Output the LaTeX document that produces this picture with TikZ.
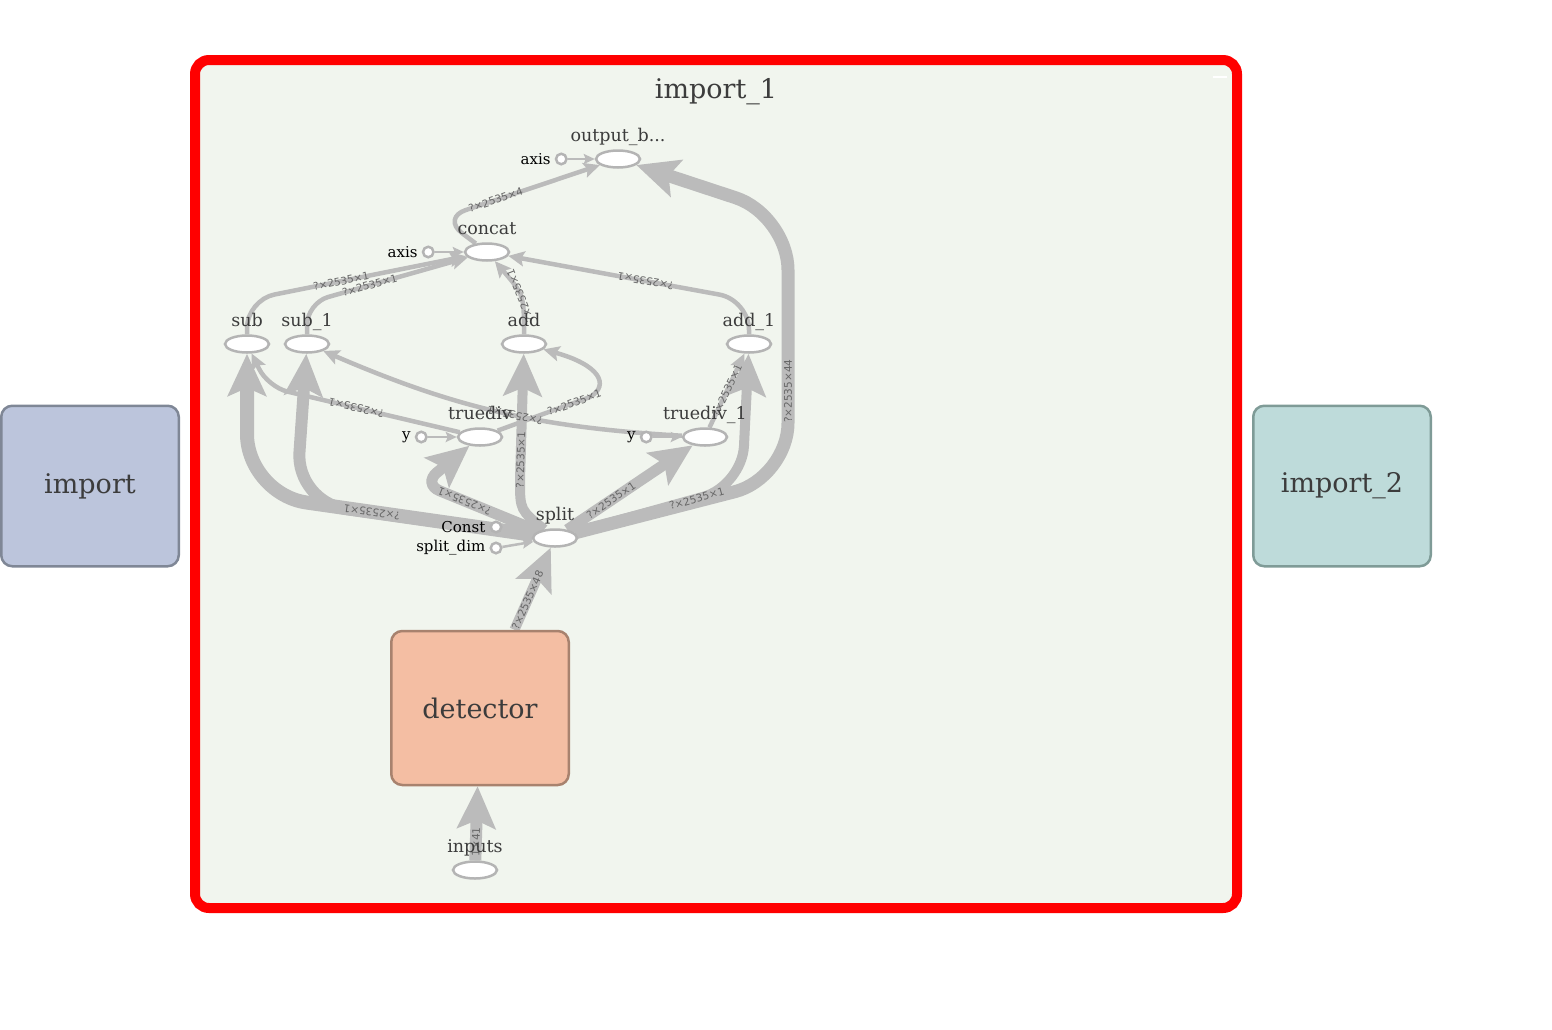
\documentclass[tikz,border=0pt]{standalone}
\usepackage{fontspec}
\setmainfont{DejaVu Serif}
\newfontfamily\dimfont{DejaVu Sans}
\usetikzlibrary{shapes.geometric, arrows.meta, positioning, calc}
\definecolor{tb_red}{HTML}{FF0000}
\definecolor{tb_bg}{HTML}{F1F5EE}
\definecolor{tb_edge}{HTML}{BBBBBB}
\definecolor{tb_op}{HTML}{B4B4B4}
\definecolor{tb_text}{HTML}{3C3C3C}
\definecolor{tb_dim}{HTML}{666666}
\definecolor{tb_import}{HTML}{BCC5DC}
\definecolor{tb_importline}{HTML}{7F8796}
\definecolor{tb_importtwo}{HTML}{BEDBDA}
\definecolor{tb_importtwoline}{HTML}{7F9B97}
\definecolor{tb_detector}{HTML}{F4BEA3}
\definecolor{tb_detectorline}{HTML}{A8826E}
\tikzset{
  opnode/.style={ellipse,draw=tb_op,line width=2.5pt,fill=white,minimum width=44pt,minimum height=17pt,inner sep=0pt},
  opname/.style={font=\fontsize{17.5}{17.5}\selectfont,text=tb_text,inner sep=0pt,text height=12pt,text depth=4pt},
  constnode/.style={circle,draw=tb_op,line width=2.5pt,fill=white,minimum size=10.5pt,inner sep=0pt},
  constname/.style={font=\fontsize{15}{15}\selectfont,text=black,inner sep=0pt},
  groupbox/.style={rectangle,rounded corners=11pt,line width=2.5pt,minimum width=177.5pt,inner sep=0pt,font=\fontsize{27}{27}\selectfont,text=tb_text},
  importframe/.style={rectangle,rounded corners=14pt,draw=tb_red,fill=tb_bg,line width=10pt,minimum width=1042pt,minimum height=848pt,inner sep=0pt},
  tensor/.style={draw=tb_edge,line width=#1,-{Stealth[length=16pt,width=15pt,inset=3pt]}},
  bigtensor/.style={draw=tb_edge,line width=#1,-{Stealth[length=42pt,width=38pt,inset=8pt]}},
  consttensor/.style={draw=tb_edge,line width=2.5pt,-{Stealth[length=11pt,width=10pt,inset=2pt]}},
  dims/.style={font=\dimfont\fontsize{10.5}{10.5}\selectfont,text=tb_dim,sloped,allow upside down,inner sep=1pt},
}
\pgfdeclarelayer{frame}
\pgfdeclarelayer{edges}
\pgfsetlayers{frame,edges,main}

\begin{document}
\begin{tikzpicture}[x=1pt,y=-1pt,label distance=4pt]
	\useasboundingbox (0,0) rectangle (1552,1029);
	\begin{pgfonlayer}{frame}
	    \node[importframe] (import1) at (716,484) {};
	\end{pgfonlayer}
	\node[font=\fontsize{27}{27}\selectfont,text=tb_text] (title) at (716,92) {import\_1};
	\draw[white,line width=2pt] (1213,77) -- (1227,77);
	% side groups
	\node[groupbox,draw=tb_importline,fill=tb_import,minimum height=160.5pt] (import) at (90,486) {import};
	\node[groupbox,draw=tb_importtwoline,fill=tb_importtwo,minimum height=160.5pt] (import2) at (1342,486) {import\_2};
	\node[groupbox,draw=tb_detectorline,fill=tb_detector,minimum height=154pt] (detector) at (480,708) {detector};
	% ops
	\node[opnode,label={[opname]above:output\_b...}] (outb) at (618,159) {};
	\node[opnode,label={[opname]above:concat}] (concat) at (487,252) {};
	\node[opnode,label={[opname]above:sub}] (sub) at (247,344) {};
	\node[opnode,label={[opname]above:sub\_1}] (sub1) at (307,344) {};
	\node[opnode,label={[opname]above:add}] (add) at (524,344) {};
	\node[opnode,label={[opname]above:add\_1}] (add1) at (749,344) {};
	\node[opnode,label={[opname]above:truediv}] (truediv) at (480,437) {};
	\node[opnode,label={[opname]above:truediv\_1}] (truediv1) at (705,437) {};
	\node[opnode,label={[opname]above:split}] (split) at (555,538) {};
	\node[opnode,label={[opname]above:inputs}] (inputs) at (475,870) {};
	% constants
	\node[constnode,left=27pt of outb,label={[constname]left:axis}] (axisout) {};
	\node[constnode,left=29pt of concat,label={[constname]left:axis}] (axisconcat) {};
	\node[constnode,left=29pt of truediv,label={[constname]left:y}] (ydiv) {};
	\node[constnode,left=29pt of truediv1,label={[constname]left:y}] (ydivone) {};
	\node[constnode,label={[constname]left:Const}] (const) at (496,527) {};
	\node[constnode,label={[constname]left:split\_dim}] (splitdim) at (496,548) {};
	\begin{pgfonlayer}{edges}
	    \draw[bigtensor=12pt] (inputs) -- node[dims,pos=0.25]{1×41} (detector);
	    \draw[bigtensor=10pt] (detector) -- node[dims,pos=0.36]{?×2535×48} (split);
	    \draw[bigtensor=13pt,rounded corners=55pt] (split) -- (788,478) -- node[dims,pos=0.33]{?×2535×44} (788,215) -- (outb);
	    \draw[bigtensor=14pt,rounded corners=60pt] (split) -- node[dims,pos=0.62]{?×2535×1} (247,494) -- (sub);
	    \draw[bigtensor=12pt,rounded corners=50pt] (split) -- node[dims,pos=0.68]{?×2535×1} (296,502) -- (sub1);
	    \draw[bigtensor=11pt,rounded corners=18pt] (split) -- node[dims,pos=0.64]{?×2535×1} (423,484) -- (truediv);
	    \draw[bigtensor=10pt] (split) .. controls (520,510) .. (520,480) -- node[dims,pos=0.16]{?×2535×1} (add);
	    \draw[bigtensor=11pt] (split) -- node[dims,pos=0.35]{?×2535×1} (truediv1);
	    \draw[bigtensor=10pt,rounded corners=40pt] (split) -- node[dims,pos=0.73]{?×2535×1} (742,486) -- (add1);
	    \draw[tensor=4.5pt,rounded corners=20pt] (truediv) -- node[dims,pos=0.54]{?×2535×1} (268,387) -- (sub);
	    \draw[tensor=4.5pt] (truediv) -- node[dims,pos=0.83]{?×2535×1} (590,397) .. controls (610,385) and (600,365) .. (add);
	    \draw[tensor=4.5pt] (truediv1) to[bend left=10] node[dims,pos=0.45]{?×2535×1} (sub1);
	    \draw[tensor=4.5pt] (truediv1) -- node[dims,pos=0.5]{?×2535×1} (add1);
	    \draw[tensor=4.5pt,rounded corners=28pt] (sub) -- (247,300) -- node[dims,pos=0.43]{?×2535×1} (concat);
	    \draw[tensor=4.5pt,rounded corners=22pt] (sub1) -- (307,303) -- node[dims,pos=0.39]{?×2535×1} (concat);
	    \draw[tensor=4.5pt] (add) .. controls (524,295) .. node[dims,pos=0.5]{?×2535×1} (concat);
	    \draw[tensor=4.5pt,rounded corners=30pt] (add1) -- (749,300) -- node[dims,pos=0.43]{?×2535×1} (concat);
	    \draw[tensor=4.5pt,rounded corners=25pt] (concat) -- (442,218) -- node[dims,pos=0.34]{?×2535×4} (outb);
	    % constant inputs
	    \draw[consttensor] (axisout) -- (outb);
	    \draw[consttensor] (axisconcat) -- (concat);
	    \draw[consttensor] (ydiv) -- (truediv);
	    \draw[consttensor] (ydivone) -- (truediv1);
	    \draw[consttensor] (const) -- (split);
	    \draw[consttensor] (splitdim) -- (split);
	\end{pgfonlayer}
\end{tikzpicture}
\end{document}
